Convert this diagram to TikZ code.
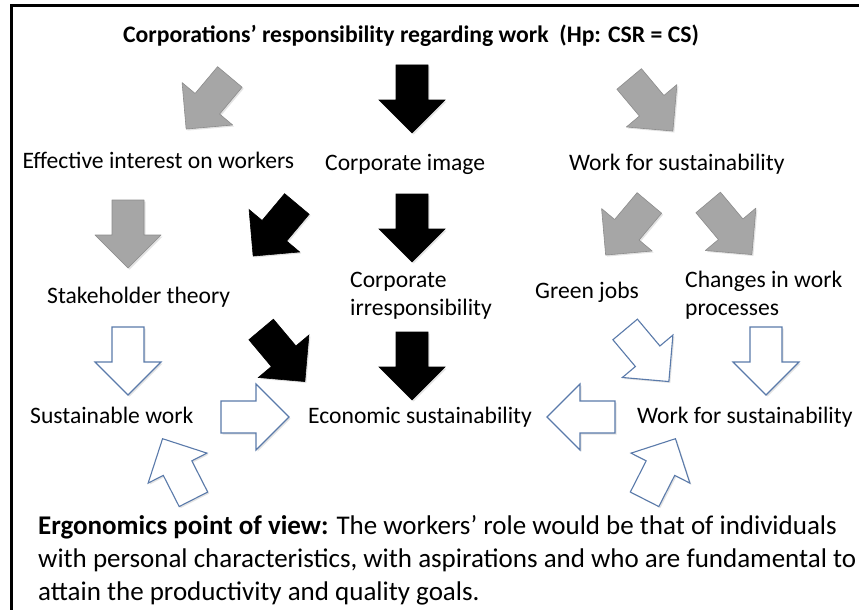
\documentclass[tikz,border=0pt]{standalone}
\usepackage{fontspec}
\setmainfont{Carlito}
\usetikzlibrary{shadows}
\definecolor{arrgray}{RGB}{166,166,166}
\definecolor{arrgrayd}{RGB}{140,140,140}
\definecolor{arrblue}{RGB}{90,122,170}
\newcommand\barrow[3]{\path[#1,shift={(#2)},rotate=#3] (-34,-16) -- (1,-16) -- (1,-33) -- (34,0) -- (1,33) -- (1,16) -- (-34,16) -- cycle;}
\begin{document}
\begin{tikzpicture}[x=1pt,y=-1pt,
  shd/.style={drop shadow={opacity=0.22, shadow xshift=1.5pt, shadow yshift=-1.5pt}},
  grayarr/.style={shd, fill=arrgray, draw=arrgrayd, line width=0.6pt, line join=round},
  blackarr/.style={shd, fill=black, draw=black, line width=0.6pt},
  whitearr/.style={shd, fill=white, draw=arrblue, line width=1.1pt},
  lbl/.style={font=\fontsize{23.6}{27}\selectfont, inner sep=0pt, anchor=base west},
  bot/.style={font=\fontsize{27}{33}\selectfont, inner sep=0pt, anchor=base west}]
\useasboundingbox (0,0) rectangle (859,610);
\fill[white] (0,0) rectangle (859,610);
\draw[line width=3pt] (11,610) -- (11,6) -- (859,6);
% title
\node[font=\bfseries\fontsize{23.7}{27}\selectfont, inner sep=0pt, anchor=base west] (title) at (123,43) {Corporations’ responsibility regarding work\ \ (Hp: CSR = CS)};
% arrows row 1
\barrow{grayarr}{208,103}{-130}
\barrow{blackarr}{412,99}{-90}
\barrow{grayarr}{651,105}{-50}
% labels row 1
\node[lbl] (eff) at (22.5,168) {Effective interest on workers};
\node[lbl] (cimg) at (325,170) {Corporate image};
\node[lbl] (wfs1) at (569,170) {Work for sustainability};
% arrows row 2
\barrow{grayarr}{128,234}{-90}
\barrow{blackarr}{275,230}{-130}
\barrow{blackarr}{412,228}{-90}
\barrow{grayarr}{627.5,229}{-130}
\barrow{grayarr}{730,228.5}{-50}
% labels row 2
\node[lbl] (stk) at (47,303) {Stakeholder theory};
\node[lbl] (cirr1) at (350,287) {Corporate};
\node[lbl] (cirr2) at (350,315) {irresponsibility};
\node[lbl] (green) at (535,298) {Green jobs};
\node[lbl] (chg1) at (685,287) {Changes in work};
\node[lbl] (chg2) at (685,315) {processes};
% arrows row 3
\barrow{whitearr}{128,361}{-90}
\barrow{blackarr}{283,355.5}{-50}
\barrow{blackarr}{412,366}{-90}
\barrow{whitearr}{647,355.5}{-50}
\barrow{whitearr}{766,361}{-90}
% labels row 3
\node[lbl] (sw) at (30,423) {Sustainable work};
\node[lbl] (econ) at (308,423) {Economic sustainability};
\node[lbl] (wfs2) at (637,423) {Work for sustainability};
% horizontal arrows
\barrow{whitearr}{255,417}{0}
\barrow{whitearr}{581,417}{180}
% bottom arrows
\barrow{whitearr}{178,469}{117}
\barrow{whitearr}{660,469}{63}
% bottom text
\node[bot] (b1) at (38,534) {\textbf{Ergonomics point of view:} The workers’ role would be that of individuals};
\node[bot] (b2) at (38,567) {with personal characteristics, with aspirations and who are fundamental to};
\node[bot] (b3) at (38,600) {attain the productivity and quality goals.};
\end{tikzpicture}
\end{document}
